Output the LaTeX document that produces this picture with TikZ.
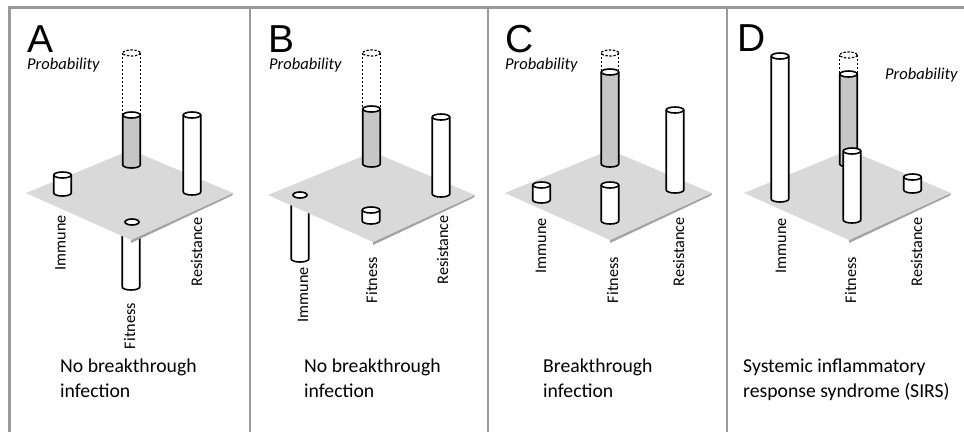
\documentclass[tikz,border=0pt]{standalone}
\usepackage{fontspec}
\setmainfont{Carlito}
\newfontfamily\letterfont{Liberation Sans}
\definecolor{framegray}{HTML}{9A9A9A}
\definecolor{plategray}{HTML}{D9D9D9}
\definecolor{edgegray}{HTML}{A3A3A3}
\definecolor{colgray}{HTML}{C6C6C6}
\tikzset{
  cylline/.style={line width=1.6pt, black},
  dashline/.style={line width=1.2pt, black, dash pattern=on 2.4pt off 1.6pt},
  lab/.style={font=\fontsize{16.2}{19}\selectfont, inner sep=0pt, rotate=90, anchor=base east},
  prob/.style={font=\fontsize{16.5}{18}\selectfont\itshape, inner sep=0pt, anchor=base west},
  letter/.style={font=\fontsize{39}{40}\selectfont\letterfont, inner sep=0pt, anchor=base west},
  caption/.style={font=\fontsize{19.7}{25}\selectfont, inner sep=0pt, anchor=base west, align=left},
  framel/.style={framegray, line width=3pt},
  divl/.style={framegray, line width=1.6pt}
}
\newcommand\mycyl[4]{%
  \fill[#4] (#1-8.75,#2) -- (#1-8.75,#3) arc[start angle=180, end angle=0, x radius=8.75, y radius=3] -- (#1+8.75,#2) -- cycle;
  \draw[cylline] (#1-8.75,#2) -- (#1-8.75,#3) arc[start angle=180, end angle=0, x radius=8.75, y radius=3] -- (#1+8.75,#2);
  \draw[cylline, fill=white] (#1,#2) ellipse[x radius=8.75, y radius=3];
}
\newcommand\mydash[3]{%
  \draw[dashline] (#1-8.75,#2) -- (#1-8.75,#3) (#1+8.75,#2) -- (#1+8.75,#3);
  \draw[dashline] (#1,#2) ellipse[x radius=8.75, y radius=3];
}
\newcommand\myplate[2]{%
  \fill[edgegray] (#1+207,#2) -- (#1+105,#2+47) -- (#1+105,#2+50) -- (#1+206,#2+2.5) -- cycle;
  \fill[plategray] (#1,#2) -- (#1+105,#2-43) -- (#1+207,#2) -- (#1+105,#2+47) -- cycle;
}
\newcommand\myhole[2]{%
  \draw[cylline, fill=white] (#1,#2) ellipse[x radius=7, y radius=3];
}
\begin{document}
\begin{tikzpicture}[x=1pt,y=-1pt]
\useasboundingbox (0,0) rectangle (964,432);
\fill[white] (0,0) rectangle (964,432);
% frame
\draw[framel] (8,7.5) -- (964,7.5);
\draw[framel] (9.5,6) -- (9.5,432);
\draw[divl] (250,7) -- (250,432);
\draw[divl] (488,7) -- (488,432);
\draw[divl] (727,7) -- (727,432);

% ---------- Panel A ----------
\mycyl{131}{225}{287}{white}
\myplate{26}{193}
\myhole{132}{222}
\mycyl{62.5}{175}{193}{white}
\mydash{131.5}{53}{115}
\mycyl{131.5}{115}{165}{colgray}
\mycyl{192}{115}{192}{white}
\node[letter] (letA) at (27,52) {A};
\node[prob] (probA) at (27,69) {Probability};
\node[lab] (immA) at (65.5,215) {Immune};
\node[lab] (fitA) at (135,303) {Fitness};
\node[lab] (resA) at (202,217) {Resistance};
\node[caption] (capA) at (60,397) {No breakthrough\\infection};

% ---------- Panel B ----------
\mycyl{300}{200}{259}{white}
\myplate{268}{195}
\myhole{300}{195}
\mydash{371.5}{53}{109}
\mycyl{371.5}{109}{164}{colgray}
\mycyl{371}{210}{221}{white}
\mycyl{441}{117}{194}{white}
\node[letter] (letB) at (268,52) {B};
\node[prob] (probB) at (269,69) {Probability};
\node[lab] (immB) at (308,267) {Immune};
\node[lab] (fitB) at (377,257) {Fitness};
\node[lab] (resB) at (448,215) {Resistance};
\node[caption] (capB) at (304,397) {No breakthrough\\infection};

% ---------- Panel C ----------
\myplate{505}{193}
\mydash{610}{53}{72}
\mycyl{610}{72}{164}{colgray}
\mycyl{610}{185}{221}{white}
\mycyl{541.5}{185}{200}{white}
\mycyl{675}{110}{190}{white}
\node[letter] (letC) at (505,52) {C};
\node[prob] (probC) at (505,69) {Probability};
\node[lab] (immC) at (546,218) {Immune};
\node[lab] (fitC) at (618,257) {Fitness};
\node[lab] (resC) at (684,217) {Resistance};
\node[caption] (capC) at (543,397) {Breakthrough\\infection};

% ---------- Panel D ----------
\myplate{744}{193}
\mycyl{780}{56}{199}{white}
\mydash{848.5}{55}{74}
\mycyl{848.5}{74}{164}{colgray}
\mycyl{852}{151}{220}{white}
\mycyl{912.5}{177}{190}{white}
\node[letter] (letD) at (737,51) {D};
\node[prob] (probD) at (885,79) {Probability};
\node[lab] (immD) at (786,218) {Immune};
\node[lab] (fitD) at (856,257) {Fitness};
\node[lab] (resD) at (922,217) {Resistance};
\node[caption] (capD) at (743,397) {Systemic inflammatory\\response syndrome (SIRS)};
\end{tikzpicture}
\end{document}
